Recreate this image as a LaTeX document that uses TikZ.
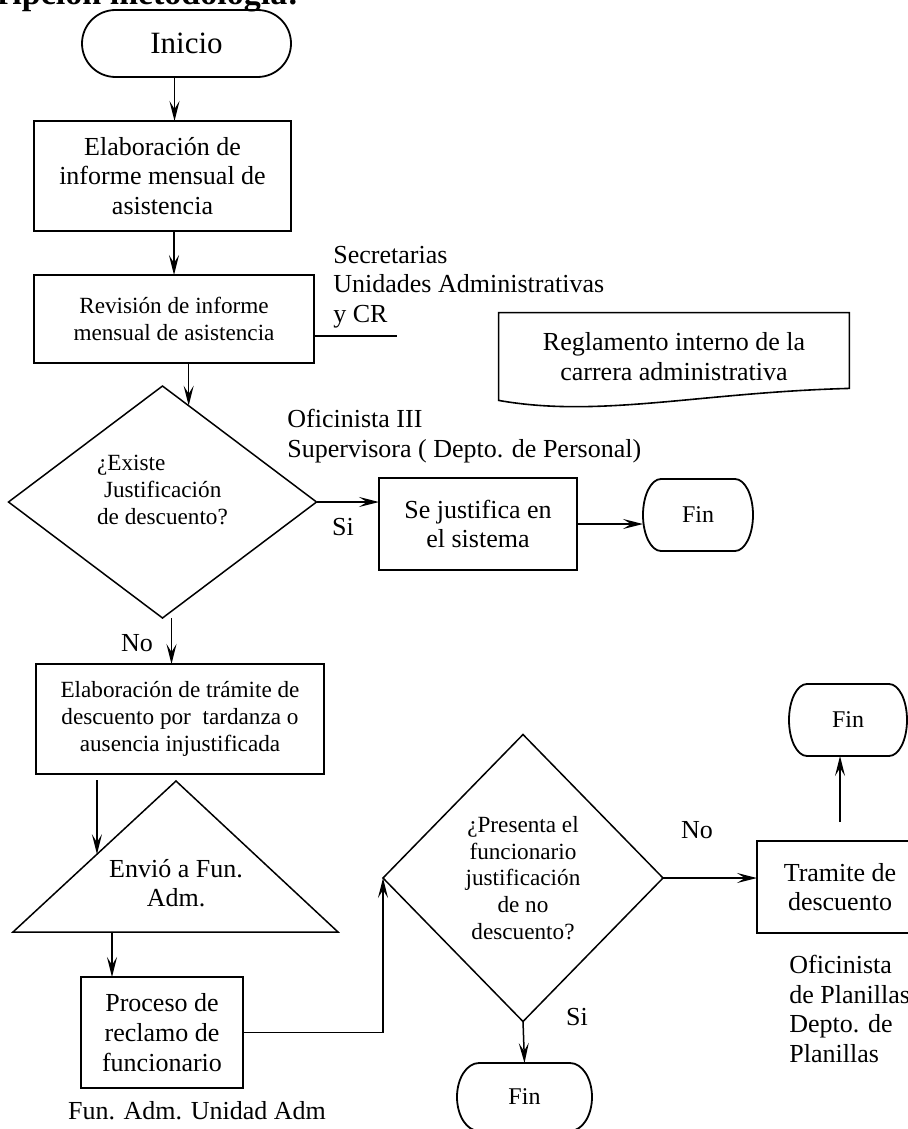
\documentclass[tikz,border=0pt]{standalone}
\usepackage{fontspec}
\setmainfont{Liberation Serif}
\usetikzlibrary{positioning,arrows.meta,shapes.geometric,calc}
\newcommand{\letranormal}{\fontsize{13pt}{14.8pt}\selectfont}
\newcommand{\letrachica}{\fontsize{11.6pt}{13.4pt}\selectfont}
\newcommand{\letrafin}{\fontsize{12pt}{14pt}\selectfont}
\newcommand{\letrainicio}{\fontsize{15.5pt}{18pt}\selectfont}
% terminal con extremos elipticos
\newcommand{\dibterminal}[3]{%
  \draw[line width=0.9pt] ([xshift=#2]#1.north west) -- ([xshift=-#2]#1.north east)
    arc[start angle=90,end angle=-90,x radius=#2,y radius=#3]
    -- ([xshift=#2]#1.south west)
    arc[start angle=270,end angle=90,x radius=#2,y radius=#3] -- cycle;}

\begin{document}
\begin{tikzpicture}[x=0.5pt,y=-0.5pt,
  caja/.style={draw,line width=1pt,rectangle,align=center,font=\letranormal,inner sep=2pt,outer sep=0pt},
  decision/.style={draw,line width=0.75pt,diamond,shape aspect=1,font=\letrachica,inner sep=0pt,outer sep=0pt},
  term/.style={font=\letrafin,minimum height=36pt,inner sep=0pt,outer sep=0pt},
  texto/.style={font=\letranormal,inner sep=0pt,align=left},
  flecha/.style={-{Stealth[length=10pt,width=5pt,inset=4pt]},line width=0.75pt}]
\useasboundingbox (0,0) rectangle (908,1129);
\clip (0,0) rectangle (908,1129);
% titulo cortado
\node[font=\fontsize{17pt}{20pt}\selectfont\bfseries,anchor=base east,inner sep=0pt] (titulo) at (299,5) {ripción metodología:};
% columna izquierda
\node[term,font=\letrainicio,minimum width=104.5pt,minimum height=33.5pt] (inicio) at (186.5,43.5) {Inicio};
\node[caja,minimum width=128.5pt,minimum height=55pt] (elab1) at (162.5,176) {Elaboración de\\informe mensual de\\asistencia};
\node[caja,font=\letrachica,minimum width=140pt,minimum height=44pt] (rev) at (174,319) {Revisión de informe\\mensual de asistencia};
\node[texto,anchor=west] (secr) at (333,287) {Secretarias\\Unidades Administrativas\\y CR};
\coordinate (secr-fin) at (397,336);
\node[texto,align=center,minimum width=175pt,minimum height=43.5pt] (reg) at (674,356.5) {Reglamento interno de la\\carrera administrativa};
\node[decision,minimum width=154pt,minimum height=116pt] (d1) at (162.5,502)
  {\raisebox{5pt}[\height][\depth]{\begin{tabular}{@{}l@{}}¿Existe\\\hspace*{0.3em}Justificación\\de descuento?\end{tabular}}};
\node[texto,anchor=west] (ofi) at (287,436) {Oficinista III\\Supervisora ( Depto. de Personal)};
\node[caja,minimum width=99pt,minimum height=46pt] (sej) at (478,524) {Se justifica en\\el sistema};
\node[term,minimum width=55pt] (fin1) at (698,515) {Fin};
\node[texto] (si1) at (343,527) {Si};
\node[texto] (no1) at (137,643) {No};
\node[caja,font=\letrachica,minimum width=144pt,minimum height=55pt] (elab2) at (180,719) {Elaboración de trámite de\\descuento por\ \ tardanza o\\ausencia injustificada};
% triangulo de envio
\coordinate (tri-t) at (176,781);
\coordinate (tri-l) at (13,932);
\coordinate (tri-r) at (338,932);
\node[texto,align=center] (envio) at (176,883) {Envió a Fun.\\Adm.};
\node[caja,minimum width=81pt,minimum height=55.5pt] (proc) at (162,1032.5) {Proceso de\\reclamo de\\funcionario};
\node[texto] (fun) at (197,1111) {Fun. Adm. Unidad Adm};
% parte derecha
\node[decision,align=center,minimum width=140pt,minimum height=143.5pt] (d2) at (523,878) {¿Presenta el\\funcionario\\justificación\\de no\\descuento?};
\node[texto] (no2) at (697,830) {No};
\node[caja,minimum width=83pt,minimum height=46pt] (tram) at (840,887) {Tramite de\\descuento};
\node[term,minimum width=59pt] (fin2) at (848,720) {Fin};
\node[texto,anchor=west] (ofiplan) at (789,1009) {Oficinista\\de Planillas\\Depto. de\\Planillas};
\node[texto] (si2) at (577,1017) {Si};
\node[term,minimum width=67.5pt,minimum height=34pt] (fin3) at (524.5,1097) {Fin};
% contornos
\dibterminal{inicio}{16.75pt}{16.75pt}
\dibterminal{fin1}{9pt}{18pt}
\dibterminal{fin2}{9pt}{18pt}
\dibterminal{fin3}{11pt}{17pt}
\draw[line width=0.8pt] (reg.north west) -- (reg.north east) -- ([yshift=6pt]reg.south east)
  .. controls ($(reg.south west)+(201,-8)$) and ($(reg.south west)+(101,18)$) .. (reg.south west) -- cycle;
\draw[line width=0.75pt] (tri-t) -- (tri-r) -- (tri-l) -- cycle;
\draw[line width=0.75pt] (secr-fin -| rev.east) -- (secr-fin);
% flechas
\coordinate (p1) at ($(d1.north)!0.17!(d1.east)$);
\coordinate (p2) at ($(tri-l)!0.515!(tri-t)$);
\draw[flecha] ([xshift=-6pt]inicio.south) -- ([xshift=-6pt]inicio.south |- elab1.north);
\draw[flecha] (rev.north |- elab1.south) -- (rev.north);
\draw[flecha] (p1 |- rev.south) -- (p1);
\draw[flecha] (d1.east) -- (d1.east -| sej.west);
\draw[flecha] (sej.east) -- (sej.east -| fin1.west);
\draw[flecha] ([xshift=4.5pt]d1.south) -- ([xshift=4.5pt]d1.south |- elab2.north);
\draw[flecha] ([yshift=-3pt]p2 |- elab2.south) -- (p2);
\draw[flecha] ([xshift=-25pt]proc.north |- tri-l) -- ([xshift=-25pt]proc.north);
\draw[flecha] (proc.east) -| (d2.west);
\draw[flecha] (d2.east) -- (d2.east -| tram.west);
\draw[flecha] ([yshift=9.5pt]tram.north) -- (tram.north |- fin2.south);
\draw[flecha] (d2.south) -- (fin3.north);
\end{tikzpicture}
\end{document}
